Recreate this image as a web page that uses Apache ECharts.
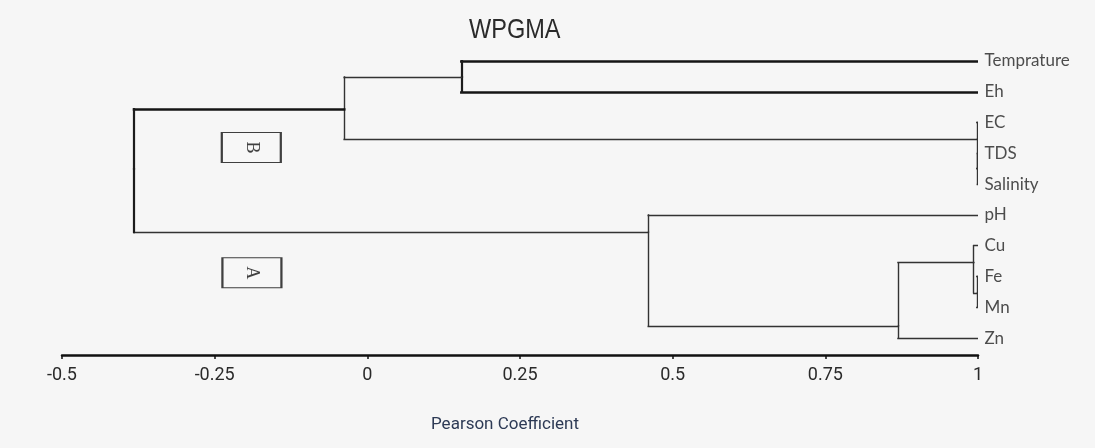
<!DOCTYPE html>
<html>
<head>
<meta charset="utf-8">
<script src="https://cdn.jsdelivr.net/npm/echarts@6/dist/echarts.min.js"></script>
<style>
  html, body { margin: 0; padding: 0; background: #f6f6f6; }
  #chart { width: 1095px; height: 448px; }
</style>
</head>
<body>
<div id="chart"></div>
<script>
// leaves, top to bottom (row = index)
const leaves = ['Temprature', 'Eh', 'EC', 'TDS', 'Salinity', 'pH', 'Cu', 'Fe', 'Mn', 'Zn']
const leafCoef = 1

// merges, ids continue after the leaves (10, 11, ...)
const mergeLeft = [7, 6, 11, 5, 3, 2, 0, 16, 17]
const mergeRight = [8, 10, 9, 12, 4, 14, 1, 15, 13]
const mergeCoef = [0.998, 0.993, 0.869, 0.46, 0.999, 0.998, 0.154, -0.038, -0.382]
const mergeRow = [7.53, 6.55, 8.6, 5.56, 3.5, 2.53, 0.52, 1.56, 3.5]

// the two group boxes
const groupNames = ['B', 'A']
const groupCoef = [-0.19, -0.189]
const groupRow = [2.81, 6.88]

// style: which branches are drawn heavier
const thickBranch = [0, 1, 17]
const thickJoin = [16, 18]

const nodeCoef = id => id < leaves.length ? leafCoef : mergeCoef[id - leaves.length]
const nodeRow = id => id < leaves.length ? id : mergeRow[id - leaves.length]

const segments = []
mergeCoef.forEach((c, i) => {
  const id = leaves.length + i;
  [mergeLeft[i], mergeRight[i]].forEach(child => {
    const cx = nodeCoef(child), cy = nodeRow(child)
    // horizontal from the child to the join
    segments.push({
      coords: [[cx, cy], [c, cy]],
      lineStyle: { width: thickBranch.includes(child) ? 2.6 : 1.4, color: thickBranch.includes(child) ? '#151515' : '#333' }
    })
    // vertical from the child row to the join row
    segments.push({
      coords: [[c, cy], [c, mergeRow[i]]],
      lineStyle: { width: thickJoin.includes(id) ? 2.2 : 1.4, color: thickJoin.includes(id) ? '#1c1c1c' : '#333' }
    })
  })
})

const myChart = echarts.init(document.getElementById('chart'))
const chartOption = {
  backgroundColor: '#f6f6f6',
  animation: false,
  graphic: [{
    // title, squeezed to look like the narrow face of the original
    type: 'text',
    x: 469,
    y: 16,
    scaleX: 0.84,
    style: { text: 'WPGMA', font: '28px "Liberation Sans", Arial, sans-serif', fill: '#2a2a2a' }
  }],
  grid: { left: 62, right: 117, top: 45.6, bottom: 93 },
  xAxis: {
    type: 'value',
    position: 'bottom',
    min: -0.5,
    max: 1,
    interval: 0.25,
    name: 'Pearson Coefficient',
    nameLocation: 'middle',
    nameGap: 61,
    nameTextStyle: { fontFamily: 'Roboto, sans-serif', fontSize: 17, color: '#2d3a55', padding: [0, 30, 0, 0] },
    axisLine: { onZero: false, lineStyle: { color: '#111', width: 2.5 } },
    axisTick: { length: 4, lineStyle: { color: '#111', width: 1.5 } },
    axisLabel: { fontFamily: 'Roboto, sans-serif', fontSize: 18, color: '#2a2a2a', margin: 11 },
    splitLine: { show: false }
  },
  yAxis: {
    type: 'value',
    inverse: true,
    min: -0.5,
    max: 9.55,
    show: false
  },
  series: [
    {
      type: 'lines',
      coordinateSystem: 'cartesian2d',
      silent: true,
      lineStyle: { cap: 'square', opacity: 1 },
      data: segments
    },
    {
      type: 'scatter',
      symbolSize: 1,
      itemStyle: { color: 'rgba(0,0,0,0)' },
      label: {
        show: true,
        position: 'right',
        distance: 6,
        fontFamily: 'Lato, sans-serif',
        fontSize: 17,
        color: '#222',
        formatter: p => p.value[2]
      },
      data: leaves.map((name, i) => [leafCoef, i, name])
    },
    {
      type: 'scatter',
      symbol: 'rect',
      symbolSize: [59, 30],
      itemStyle: { color: '#f8f8f8', borderColor: '#111', borderWidth: 1.6 },
      label: {
        show: true,
        position: 'inside',
        rotate: -90,
        fontFamily: "'Liberation Serif', serif",
        fontSize: 18,
        color: '#111',
        formatter: p => p.value[2]
      },
      data: groupNames.map((name, i) => [groupCoef[i], groupRow[i], name])
    }
  ]
}
myChart.setOption(chartOption)
</script>
</body>
</html>
